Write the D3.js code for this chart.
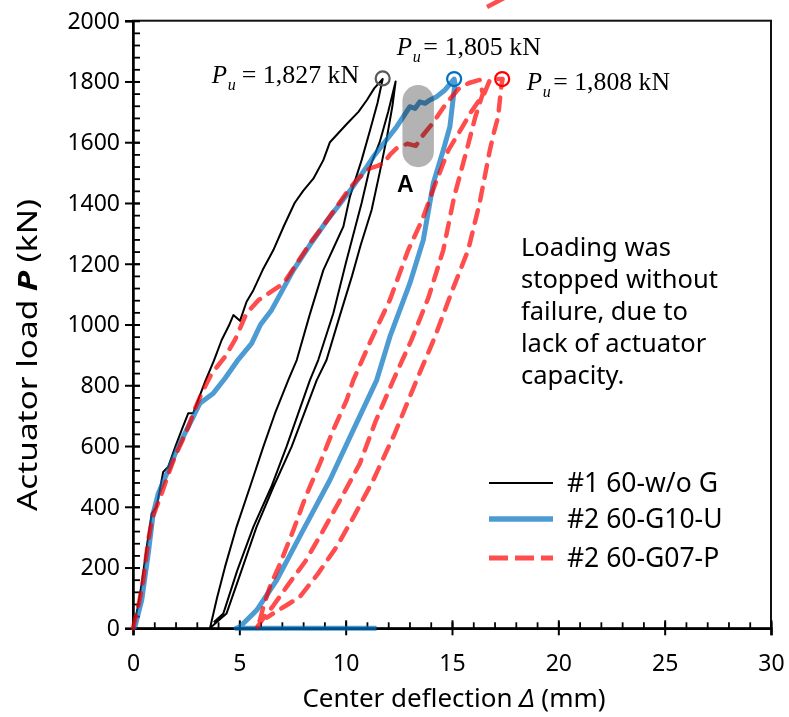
<!DOCTYPE html>
<html lang="en">
<head>
<meta charset="UTF-8">
<title>Load - deflection</title>
<script src="https://cdn.jsdelivr.net/npm/d3@7"></script>
<style>
  body { margin: 0; background: #fff; }
  svg { display: block; }
  text { font-family: "Noto Sans", sans-serif; fill: #000; }
  .serif { font-family: "Liberation Serif", "Times New Roman", serif; }
</style>
</head>
<body>
<svg id="chart" width="789" height="717"></svg>
<script>
// ticks
const xTicks = [0, 5, 10, 15, 20, 25, 30];
const yTicks = [0, 200, 400, 600, 800, 1000, 1200, 1400, 1600, 1800, 2000];

// #1 60-w/o G  [deflection mm, load kN]
const blackLoading = [[0,0],[0.2,60],[0.41,148],[0.65,270],[0.88,378],[1.11,400],[1.3,470],[1.42,515],[1.66,532],
  [2.0,600],[2.3,655],[2.6,708],[2.83,708],[3.39,812],[3.8,880],[4.17,949],[4.5,995],[4.72,1031],[5.03,1012],
  [5.34,1075],[5.66,1113],[6.1,1180],[6.6,1245],[7.1,1325],[7.6,1400],[8.0,1440],[8.48,1480],[8.95,1541],
  [9.26,1600],[10.05,1660],[10.6,1700],[11.0,1739],[11.35,1778],[11.74,1808]];
const blackUnload1 = [[11.74,1808],[11.5,1730],[11.15,1640],[10.75,1541],[10.2,1421],[9.89,1322],[9.45,1255],
  [8.95,1179],[8.3,1030],[7.7,883],[7.3,817],[6.68,708],[6.13,598],[5.5,465],[4.87,334],[4.33,203],[3.95,100],[3.62,0]];
const blackReload = [[3.62,0],[3.9,18],[4.4,49],[5.1,190],[5.81,334],[6.6,465],[7.46,598],[8.64,817],[9.1,883],
  [9.73,1030],[10.3,1160],[10.7,1260],[11.22,1377],[11.6,1500],[11.95,1620],[12.2,1720],[12.35,1800]];
const blackUnload2 = [[12.35,1800],[12.0,1700],[11.6,1600],[11.15,1520],[10.75,1400],[10.45,1320],[10.0,1200],
  [9.42,1037],[8.71,883],[8.32,817],[7.22,598],[6.5,465],[5.66,334],[4.9,190],[4.25,49],[3.8,20]];

// #2 60-G10-U
const blueLoading = [[0,0],[0.09,5],[0.41,93],[0.72,247],[0.95,378],[1.19,444],[1.66,521],[2.13,598],[2.76,686],
  [3.15,741],[3.78,774],[4.33,823],[4.9,880],[5.58,938],[6.0,1000],[6.52,1048],[7.54,1179],[8.3,1260],[9.1,1340],
  [10.2,1440],[10.99,1519],[11.3,1552],[12.4,1651],[13.02,1717],[13.26,1711],[13.49,1733],[13.73,1728],
  [13.96,1739],[14.28,1750],[14.67,1772],[15.1,1808]];
const blueUnload = [[15.1,1808],[15.14,1794],[14.9,1651],[14.59,1574],[14.12,1465],[13.65,1278],[13.02,1136],
  [12.08,960],[11.46,817],[10.36,653],[9.26,488],[8.0,323],[6.76,159],[5.82,60],[5.35,27],[5.03,5],[4.85,0],[11.45,0]];

// #2 60-G07-P
const redLoading = [[0,0],[0.09,27],[0.3,90],[0.48,159],[0.72,291],[0.9,360],[1.11,400],[1.35,444],[1.65,505],
  [1.97,565],[2.3,615],[2.6,663],[2.9,720],[3.23,774],[3.7,839],[4.0,865],[4.33,894],[4.8,950],[5.34,1037],
  [5.9,1080],[6.6,1113],[7.07,1135],[7.6,1190],[8.32,1267],[9.0,1330],[9.58,1388],[10.1,1440],[10.52,1476],
  [11.14,1514],[11.5,1522],[11.77,1530],[12.1,1560],[12.4,1580],[12.9,1595],[13.3,1588],[13.6,1620],
  [14.12,1665],[14.75,1730],[15.3,1775],[15.8,1795],[16.3,1805]];
const redUnload1 = [[16.3,1805],[16.45,1760],[16.1,1684],[15.69,1574],[15.1,1420],[14.59,1245],[13.9,1090],
  [13.1,950],[12.24,817],[11.4,680],[10.67,543],[9.8,430],[8.95,323],[8.1,220],[7.23,137],[6.6,75],[6.1,30],[5.8,0]];
const redReload = [[5.8,0],[5.97,27],[6.13,71],[6.44,137],[6.9,210],[7.54,323],[8.1,430],[8.79,543],[9.4,650],
  [10.05,752],[10.36,817],[11.2,950],[12.08,1081],[12.94,1245],[13.6,1345],[14.2,1460],[14.83,1574],
  [15.4,1640],[15.9,1700],[16.3,1740],[16.47,1752],[16.78,1805],[17.0,1808],[17.38,1808]];
const redUnload2 = [[17.38,1808],[17.33,1790],[17.25,1739],[17.17,1684],[17.0,1640],[16.78,1574],[16.3,1400],
  [15.76,1245],[15.0,1110],[14.2,960],[13.34,817],[12.3,640],[11.3,488],[10.4,370],[9.58,269],[8.7,180],
  [7.85,104],[7.2,75],[6.6,49],[6.3,35]];

// peak markers
const peaks = [[11.74,1810],[15.1,1808],[17.36,1808]];
const peakColors = ["#595959","#0070c0","#ff0000"];
const ultimateLoads = ["1,827","1,805","1,808"];

const svg = d3.select("#chart");
const x = d3.scaleLinear().domain([0, 30]).range([133, 771]);
const y = d3.scaleLinear().domain([0, 2000]).range([628.3, 20.7]);

// frame
svg.append("rect")
  .attr("x", x(0)).attr("y", y(2000))
  .attr("width", x(30) - x(0)).attr("height", y(0) - y(2000))
  .attr("fill", "none").attr("stroke", "#111").attr("stroke-width", 2);

// minor ticks (inside)
svg.append("g").attr("transform", `translate(${x(0)},0)`)
  .call(d3.axisRight(y).tickValues(d3.range(0, 2001, 40)).tickSize(7).tickFormat(""))
  .call(g => g.select(".domain").remove())
  .selectAll("line").attr("stroke-width", 1.8);
svg.append("g").attr("transform", `translate(0,${y(0)})`)
  .call(d3.axisTop(x).tickValues(d3.range(0, 31, 1)).tickSize(6).tickFormat(""))
  .call(g => g.select(".domain").remove())
  .selectAll("line").attr("stroke-width", 1.8);

// major ticks, crossing the axes
const gy = svg.append("g").attr("transform", `translate(${x(0)},0)`)
  .call(d3.axisLeft(y).tickValues(yTicks).tickSize(8).tickPadding(5).tickFormat(d3.format("d")));
gy.selectAll(".tick").append("line").attr("x2", 7).attr("stroke", "currentColor");
gy.selectAll("line").attr("stroke-width", 2);
gy.select(".domain").attr("stroke-width", 2.5);
gy.selectAll("text").style("font-size", "23px").style("font-family", "Noto Sans");

const gx = svg.append("g").attr("transform", `translate(0,${y(0)})`)
  .call(d3.axisBottom(x).tickValues(xTicks).tickSize(7).tickPadding(19));
gx.selectAll(".tick").append("line").attr("y2", -8).attr("stroke", "currentColor");
gx.selectAll("line").attr("stroke-width", 2);
gx.select(".domain").attr("stroke-width", 2.5);
gx.selectAll("text").style("font-size", "23px").style("font-family", "Noto Sans");

// axis titles
const yTitle = svg.append("text")
  .attr("transform", "translate(37,355) rotate(-90)")
  .attr("text-anchor", "middle").style("font-size", "27px")
  .attr("textLength", 312).attr("lengthAdjust", "spacingAndGlyphs");
yTitle.append("tspan").text("Actuator load ");
yTitle.append("tspan").text("P").style("font-weight", "bold").style("font-style", "italic");
yTitle.append("tspan").text(" (kN)");

const xTitle = svg.append("text")
  .attr("x", 454).attr("y", 706.5)
  .attr("text-anchor", "middle").style("font-size", "26px");
xTitle.append("tspan").text("Center deflection ");
xTitle.append("tspan").text("Δ").style("font-style", "italic");
xTitle.append("tspan").text(" (mm)");

// curves
const line = d3.line().x(d => x(d[0])).y(d => y(d[1]));
const curves = svg.append("g");

curves.append("path")
  .attr("d", line([...blackLoading, ...blackUnload1.slice(1), ...blackReload.slice(1), ...blackUnload2.slice(1)]))
  .attr("fill", "none").attr("stroke", "#000").attr("stroke-width", 2).attr("stroke-linejoin", "round");

curves.append("path")
  .attr("d", line([...blueLoading, ...blueUnload.slice(1)]))
  .attr("fill", "none").attr("stroke", "#0070c0").attr("stroke-opacity", 0.7)
  .attr("stroke-width", 5).attr("stroke-linejoin", "round");

curves.append("path")
  .attr("d", line([...redLoading, ...redUnload1.slice(1), ...redReload.slice(1), ...redUnload2.slice(1)]))
  .attr("fill", "none").attr("stroke", "#ff0000").attr("stroke-opacity", 0.7)
  .attr("stroke-width", 4.5).attr("stroke-dasharray", "13,10").attr("stroke-linecap", "round")
  .attr("stroke-linejoin", "round");

// region A
svg.append("rect")
  .attr("x", x(12.67)).attr("y", y(1788))
  .attr("width", x(14.15) - x(12.67)).attr("height", y(1518) - y(1788))
  .attr("rx", (x(14.15) - x(12.67)) / 2)
  .attr("fill", "#b3b3b3").style("mix-blend-mode", "multiply");
svg.append("text")
  .attr("x", x(12.8)).attr("y", 192)
  .attr("text-anchor", "middle")
  .style("font-family", "Liberation Sans, Arial, sans-serif")
  .style("font-weight", "bold").style("font-size", "23px")
  .text("A");

// peak circles
svg.append("g").selectAll("circle")
  .data(peaks).join("circle")
  .attr("cx", d => x(d[0])).attr("cy", d => y(d[1])).attr("r", 7)
  .attr("fill", "none").attr("stroke", (d, i) => peakColors[i]).attr("stroke-width", 2.2);

// P_u labels
const puPos = [[211.7, 83.3, 241.7, 359.3], [396.7, 55, 423.3, 541], [526.7, 90, 553.3, 670]];
puPos.forEach((p, i) => {
  svg.append("text").attr("class", "serif").attr("x", p[0]).attr("y", p[1])
    .style("font-size", "25px").style("font-style", "italic").text("P");
  svg.append("text").attr("class", "serif").attr("x", p[0] + 16).attr("y", p[1] + 7)
    .style("font-size", "16px").style("font-style", "italic").text("u");
  svg.append("text").attr("class", "serif").attr("x", p[2]).attr("y", p[1])
    .attr("textLength", p[3] - p[2]).attr("lengthAdjust", "spacingAndGlyphs")
    .style("font-size", "25px").text("= " + ultimateLoads[i] + " kN");
});

// note
const note = ["Loading was", "stopped without", "failure, due to", "lack of actuator", "capacity."];
svg.append("g").selectAll("text")
  .data(note).join("text")
  .attr("x", 521).attr("y", (d, i) => 256 + i * 32)
  .style("font-size", "25.5px").text(d => d);

// legend
const legendNames = ["#1 60-w/o G", "#2 60-G10-U", "#2 60-G07-P"];
const legendY = [483, 519, 558];
const legend = svg.append("g");
legend.append("line").attr("x1", 489).attr("x2", 553).attr("y1", legendY[0]).attr("y2", legendY[0])
  .attr("stroke", "#000").attr("stroke-width", 2.2);
legend.append("line").attr("x1", 489).attr("x2", 553).attr("y1", legendY[1]).attr("y2", legendY[1])
  .attr("stroke", "#0070c0").attr("stroke-opacity", 0.7).attr("stroke-width", 5.5);
legend.append("line").attr("x1", 489).attr("x2", 553).attr("y1", legendY[2]).attr("y2", legendY[2])
  .attr("stroke", "#ff0000").attr("stroke-opacity", 0.7).attr("stroke-width", 5)
  .attr("stroke-dasharray", "19,7");
legend.selectAll("text").data(legendNames).join("text")
  .attr("x", 567).attr("y", (d, i) => legendY[i] + 9)
  .style("font-size", "26.5px").text(d => d);

// clipped arrow tip at the top edge
svg.append("line").attr("x1", 487).attr("y1", 7).attr("x2", 506).attr("y2", -3)
  .attr("stroke", "#ff0000").attr("stroke-opacity", 0.7).attr("stroke-width", 4.5);
</script>
</body>
</html>
